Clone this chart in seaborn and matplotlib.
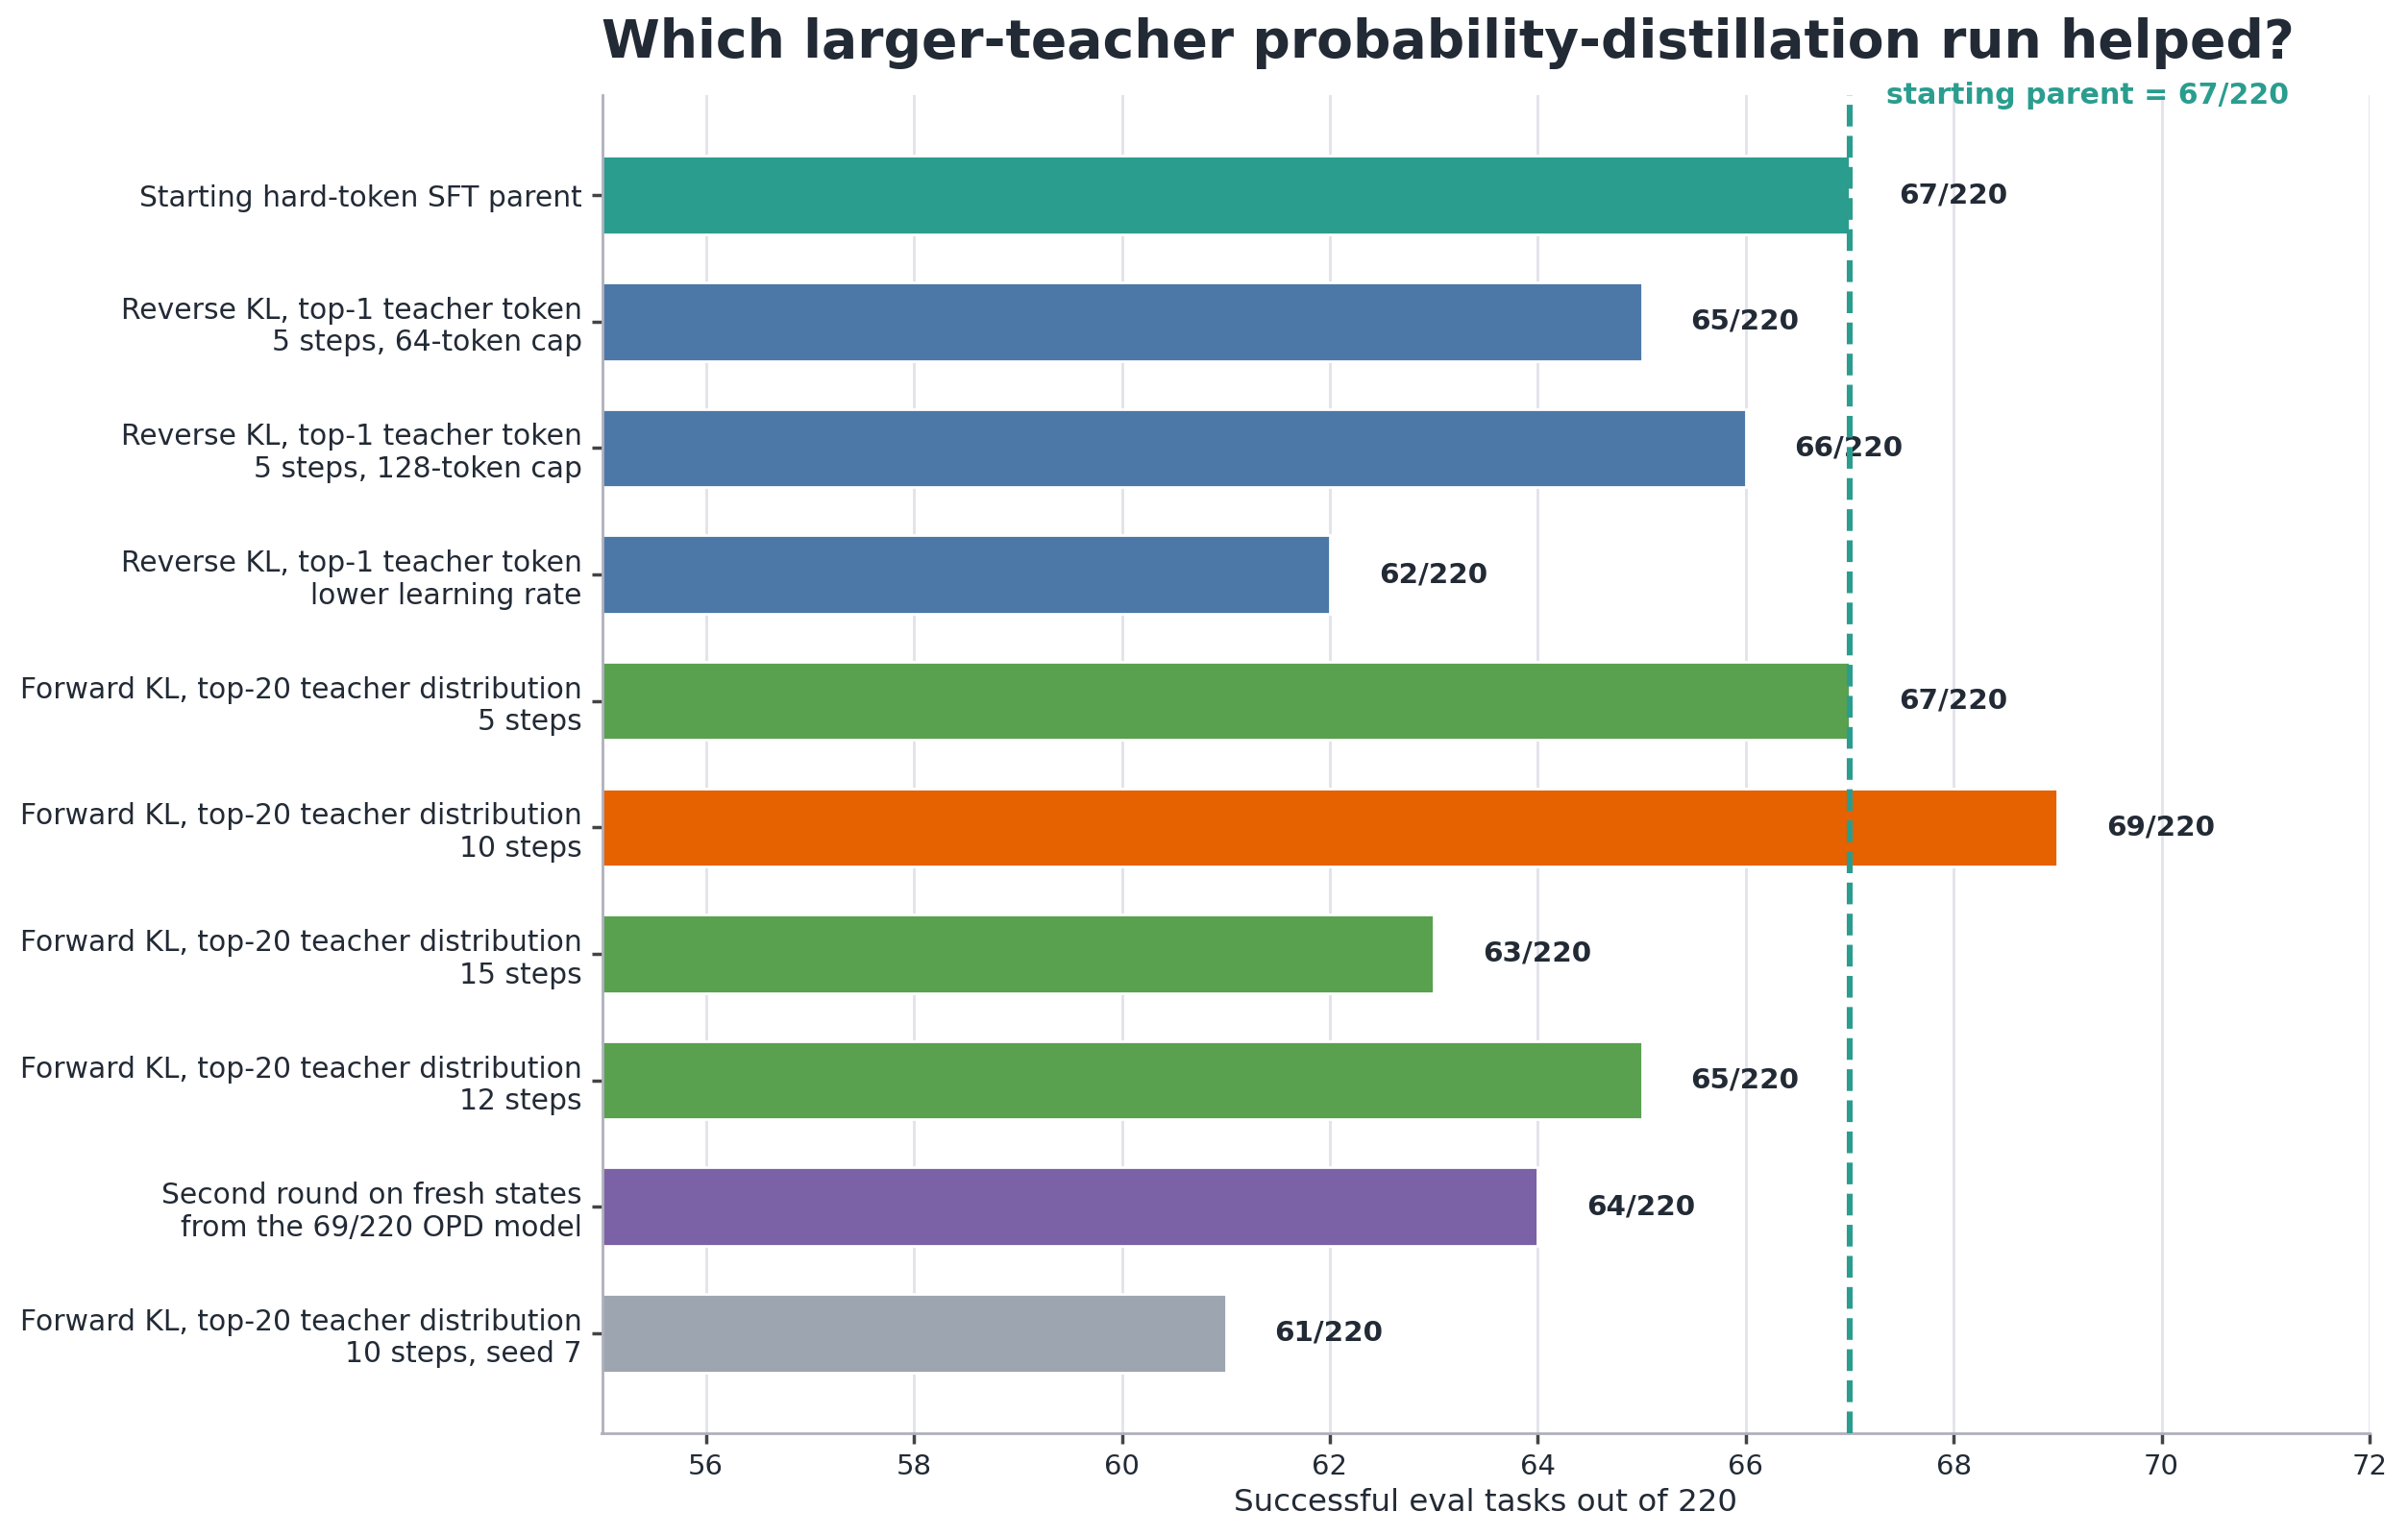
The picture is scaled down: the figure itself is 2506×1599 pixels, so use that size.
import matplotlib
matplotlib.use("Agg")
import matplotlib.pyplot as plt
import seaborn as sns
import pandas as pd

# ============================================
# DATA
# ============================================

runs = [
    "Starting hard-token SFT parent",
    "Reverse KL, top-1 teacher token\n5 steps, 64-token cap",
    "Reverse KL, top-1 teacher token\n5 steps, 128-token cap",
    "Reverse KL, top-1 teacher token\nlower learning rate",
    "Forward KL, top-20 teacher distribution\n5 steps",
    "Forward KL, top-20 teacher distribution\n10 steps",
    "Forward KL, top-20 teacher distribution\n15 steps",
    "Forward KL, top-20 teacher distribution\n12 steps",
    "Second round on fresh states\nfrom the 69/220 OPD model",
    "Forward KL, top-20 teacher distribution\n10 steps, seed 7",
]
successes = [67, 65, 66, 62, 67, 69, 63, 65, 64, 61]
total_tasks = 220
parent_score = 67

bar_colors = [
    "#2a9d8f",
    "#4c78a8", "#4c78a8", "#4c78a8",
    "#59a14f",
    "#e66100",
    "#59a14f", "#59a14f",
    "#7b61a5",
    "#9ca5b0",
]

df = pd.DataFrame({"run": runs, "successes": successes})

# ============================================
# STYLE
# ============================================

sns.set_theme(style="whitegrid")
text_color = "#222a35"
plt.rcParams["font.family"] = ["DejaVu Sans"]

fig, ax = plt.subplots(figsize=(12.53, 7.995), dpi=200)

sns.barplot(
    data=df,
    x="successes",
    y="run",
    hue="run",
    palette=bar_colors,
    saturation=1,
    orient="h",
    width=0.62,
    legend=False,
    ax=ax,
)

# value labels
for i, v in enumerate(successes):
    ax.text(
        v + 0.47, i, f"{v}/{total_tasks}",
        va="center", ha="left",
        fontsize=10.6, fontweight="bold", color=text_color,
    )

# parent reference line
ax.axvline(parent_score, color="#2a9d8f", linestyle="--", linewidth=2.2, zorder=3)

ax.set_xlim(55, 72)
ax.set_ylim(len(runs) - 1 + 0.79, -0.79)
ax.set_xticks(range(56, 73, 2))

ax.text(
    parent_score + 0.35, -0.79, f"starting parent = {parent_score}/{total_tasks}",
    va="center", ha="left",
    fontsize=10.8, fontweight="bold", color="#2a9d8f",
)

ax.set_title(
    "Which larger-teacher probability-distillation run helped?",
    loc="left", fontsize=19.85, fontweight="bold", color=text_color, pad=14,
)
ax.set_xlabel("Successful eval tasks out of 220", fontsize=11.7, color=text_color, labelpad=3)
ax.set_ylabel("")

ax.grid(axis="x", color="#e1e2ea", linewidth=1.0)
ax.grid(axis="y", visible=False)
ax.set_axisbelow(True)

for side in ["top", "right"]:
    ax.spines[side].set_visible(False)
for side in ["left", "bottom"]:
    ax.spines[side].set_color("#b0b0bc")
    ax.spines[side].set_linewidth(1.0)

ax.tick_params(axis="y", labelsize=10.7, colors=text_color, length=4, color="#444444")
ax.tick_params(axis="x", labelsize=10.5, colors=text_color, length=4, color="#444444")
ax.tick_params(left=True, bottom=True)

plt.subplots_adjust(left=0.25, right=0.984, top=0.938, bottom=0.067)
plt.savefig("out.png", dpi=200)
